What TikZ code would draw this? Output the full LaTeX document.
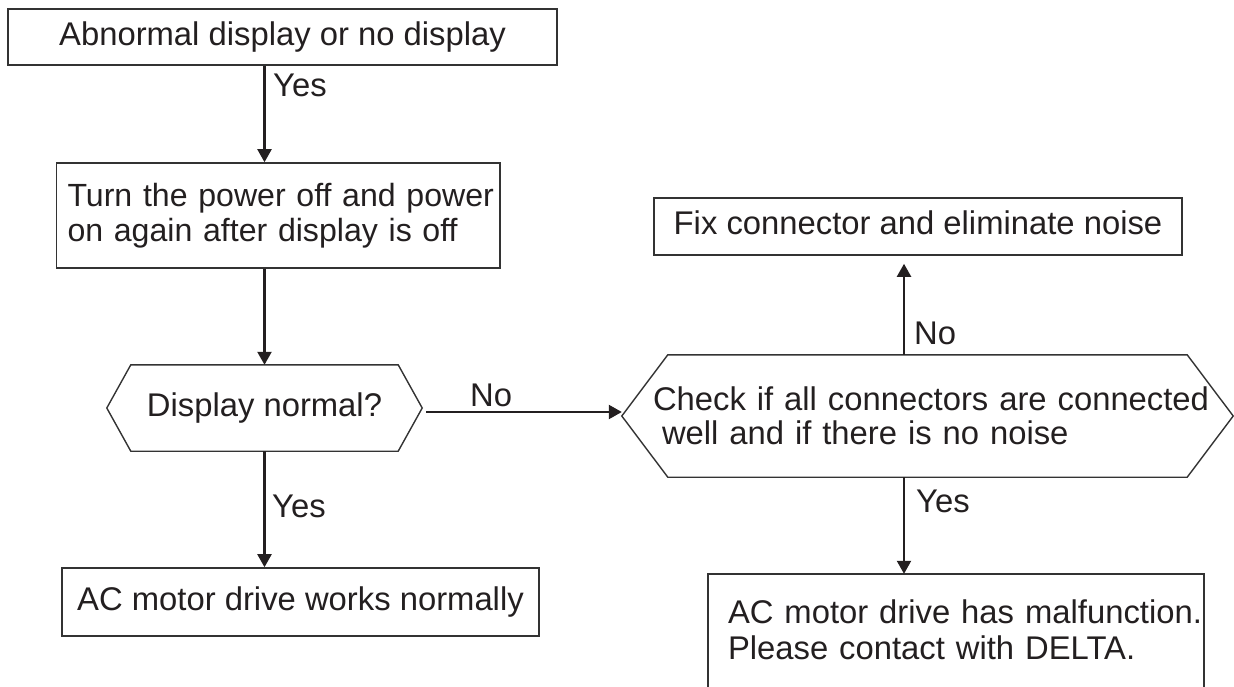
\documentclass[tikz,border=0pt]{standalone}
\usepackage{fontspec}
\setmainfont{Liberation Sans}
\usetikzlibrary{calc,arrows.meta}
\definecolor{ink}{HTML}{231F20}
\definecolor{boxc}{HTML}{333333}
\begin{document}
\begin{tikzpicture}[x=1pt,y=-1pt,
  every node/.style={font=\fontsize{32.8}{34}\selectfont, inner sep=0pt, text=ink},
  box/.style={draw=boxc, line width=1.6pt},
  boxline/.style={draw=boxc, line width=1.6pt, line join=miter},
  oneline/.style={text height=24pt, text depth=7pt},
  hexline/.style={draw=boxc, line width=1.4pt, line join=miter},
  arr/.style={draw=ink, line width=2.2pt, -{Triangle[length=13pt,width=14pt]}},
  lbl/.style={anchor=base west}
]
\useasboundingbox (0,0) rectangle (1234,687);

% boxes
\node[box,align=left,text width=443.5pt,minimum height=105pt,font=\fontsize{32.1}{35}\selectfont] (b2) at (278.25,215.5)
  {\hspace*{11pt}\mbox{Turn the power off and power}\\\hspace*{11pt}\mbox{on again after display is off}};
\node[box,oneline,minimum width=549pt,minimum height=56pt] (b1) at (282.5,37) {Abnormal display or no display};
\node[oneline,minimum width=315pt,minimum height=86pt] (h1) at (264.5,408) {Display normal?};
\draw[hexline] (h1.west) -- ($(h1.north west)+(24,0)$) -- ($(h1.north east)+(-24,0)$) -- (h1.east)
  -- ($(h1.south east)+(-24,0)$) -- ($(h1.south west)+(24,0)$) -- cycle;
\node[box,oneline,minimum width=477pt,minimum height=68pt] (b3) at (300.5,602) {AC motor drive works normally};

\node[align=left,text width=611pt,minimum height=122pt] (h2) at (927.5,416)
  {\hspace*{31pt}\mbox{Check if all connectors are connected}\\\hspace*{40pt}\mbox{well and if there is no noise}};
\draw[hexline] (h2.west) -- ($(h2.north west)+(46,0)$) -- ($(h2.north east)+(-46,0)$) -- (h2.east)
  -- ($(h2.south east)+(-46,0)$) -- ($(h2.south west)+(46,0)$) -- cycle;
\node[box,oneline,minimum width=528pt,minimum height=57pt] (b4) at (918,226.5) {Fix connector and eliminate noise};
\node[align=left,text width=496pt,minimum height=112pt,font=\fontsize{32.8}{36}\selectfont] (b5) at (956,630)
  {\hspace*{20pt}\mbox{AC motor drive has malfunction.}\\\hspace*{20pt}\mbox{Please contact with DELTA.}};
\draw[boxline] ($(b5.south west)+(0,10)$) -- (b5.north west) -- (b5.north east) -- ($(b5.south east)+(0,10)$);

% connectors
\coordinate (cx) at (904,0);
\draw[arr] (b1.south -| h1.center) -- (b2.north -| h1.center);
\draw[arr] (b2.south -| h1.center) -- (h1.north);
\draw[arr] (h1.south) -- (b3.north -| h1.center);
\draw[arr] ($(h1.east)+(4,4)$) -- ($(h2.west)+(0,-4)$);
\draw[arr] (h2.north -| cx) -- ($(b4.south -| cx)+(0,8)$);
\draw[arr] (h2.south -| cx) -- (b5.north -| cx);

% labels
\node[lbl] (y1) at (273,97) {Yes};
\node[lbl] (n1) at (470,406) {No};
\node[lbl] (n2) at (914,344) {No};
\node[lbl] (y2) at (272,517) {Yes};
\node[lbl] (y3) at (916,512) {Yes};
\end{tikzpicture}
\end{document}
